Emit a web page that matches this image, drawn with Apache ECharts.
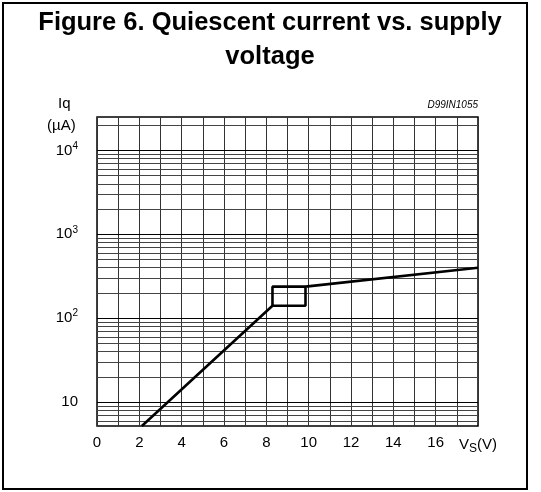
<!DOCTYPE html>
<html>
<head>
<meta charset="utf-8">
<script src="https://cdn.jsdelivr.net/npm/echarts@6/dist/echarts.min.js"></script>
<style>
  html, body { margin: 0; padding: 0; background: #fff; }
  #chart { width: 541px; height: 492px; }
</style>
</head>
<body>
<div id="chart"></div>
<script>
// Supply voltage (V) and quiescent current (µA)
const riseVoltage = [2.12, 8.29, 9.85, 9.85, 18];
const riseCurrent = [5.2, 141, 141, 238, 399];
const hystVoltage = [8.29, 8.29, 9.85];
const hystCurrent = [141, 238, 238];

// Horizontal grid lines of the log grid (µA)
const gridCurrents = [6, 7, 8, 9, 10, 20, 30, 40, 50, 60, 70, 80, 90, 100,
  200, 300, 400, 500, 600, 700, 800, 900, 1000,
  2000, 3000, 4000, 5000, 6000, 7000, 8000, 9000, 10000, 20000];
const decadeCurrents = [10, 100, 1000, 10000];

// X tick labels (V)
const xTickLabels = ['0', '', '2', '', '4', '', '6', '', '8', '', '10', '', '12', '', '14', '', '16', '', 'VS'];

const FONT = '"Liberation Sans", Arial, sans-serif';

function pairs(xs, ys) { return xs.map((x, i) => [x, ys[i]]); }

const chart = echarts.init(document.getElementById('chart'), null, { renderer: 'canvas' });

const option = {
  backgroundColor: '#fff',
  animation: false,
  grid: {
    left: 97, right: 63, top: 117, bottom: 66,
    show: true, borderColor: '#000', borderWidth: 1.5, backgroundColor: 'transparent'
  },
  xAxis: {
    type: 'value', min: 0, max: 18, interval: 1,
    axisLine: { show: false },
    axisTick: { show: false },
    splitLine: { show: true, lineStyle: { color: '#333', width: 1 } },
    axisLabel: {
      show: true, margin: 9, showMaxLabel: true, showMinLabel: true,
      fontFamily: FONT, fontSize: 15, color: '#000',
      formatter: function (v) {
        const t = xTickLabels[Math.round(v)] || '';
        if (t === 'VS') return '{v|V}{s|S}{v|(V)}';
        return t;
      },
      rich: {
        v: { fontFamily: FONT, fontSize: 15, color: '#000' },
        s: { fontFamily: FONT, fontSize: 12, color: '#000', padding: [8, 0, 0, 0] }
      }
    }
  },
  yAxis: {
    type: 'log', logBase: 10, min: 5.2, max: 25000,
    axisLine: { show: false },
    axisTick: { show: false },
    splitLine: { show: false },
    minorSplitLine: { show: false },
    axisLabel: {
      show: true, margin: 19, showMinLabel: false, showMaxLabel: false,
      fontFamily: FONT, fontSize: 15, color: '#000',
      formatter: function (v) {
        const p = Math.round(Math.log10(v));
        if (p === 1) return '10';
        return '10{sup|' + p + '}';
      },
      rich: {
        sup: { fontFamily: FONT, fontSize: 10, color: '#000', padding: [0, 0, 9, 0] }
      }
    }
  },
  graphic: [
    { type: 'rect', shape: { x: 3, y: 3, width: 524, height: 486 }, style: { fill: 'none', stroke: '#000', lineWidth: 2 }, silent: true },
    { type: 'text', x: 270, y: 10, style: { text: 'Figure 6. Quiescent current vs. supply', font: 'bold 25.5px ' + FONT, fill: '#000', textAlign: 'center', textVerticalAlign: 'top' } },
    { type: 'text', x: 270, y: 44, style: { text: 'voltage', font: 'bold 25.5px ' + FONT, fill: '#000', textAlign: 'center', textVerticalAlign: 'top' } },
    { type: 'text', left: 58, top: 96, style: { text: 'Iq', font: '15px ' + FONT, fill: '#000' } },
    { type: 'text', left: 47, top: 118, style: { text: '(µA)', font: '15px ' + FONT, fill: '#000' } },
    { type: 'text', right: 63, top: 100, style: { text: 'D99IN1055', font: 'italic 10px ' + FONT, fill: '#000', textAlign: 'right' } }
  ],
  series: [
    {
      name: 'grid', type: 'line', data: [], silent: true,
      markLine: {
        silent: true, symbol: 'none', label: { show: false }, animation: false,
        lineStyle: { color: '#444', width: 1, type: 'solid' },
        data: gridCurrents.map(v => ({ yAxis: v, lineStyle: { color: decadeCurrents.indexOf(v) >= 0 ? '#000' : '#444' } }))
      }
    },
    {
      name: 'Iq', type: 'line', data: pairs(riseVoltage, riseCurrent),
      showSymbol: false, lineStyle: { color: '#000', width: 2.6 }, z: 5
    },
    {
      name: 'hysteresis', type: 'line', data: pairs(hystVoltage, hystCurrent),
      showSymbol: false, lineStyle: { color: '#000', width: 2.6 }, z: 5
    }
  ]
};
chart.setOption(option);
</script>
</body>
</html>
